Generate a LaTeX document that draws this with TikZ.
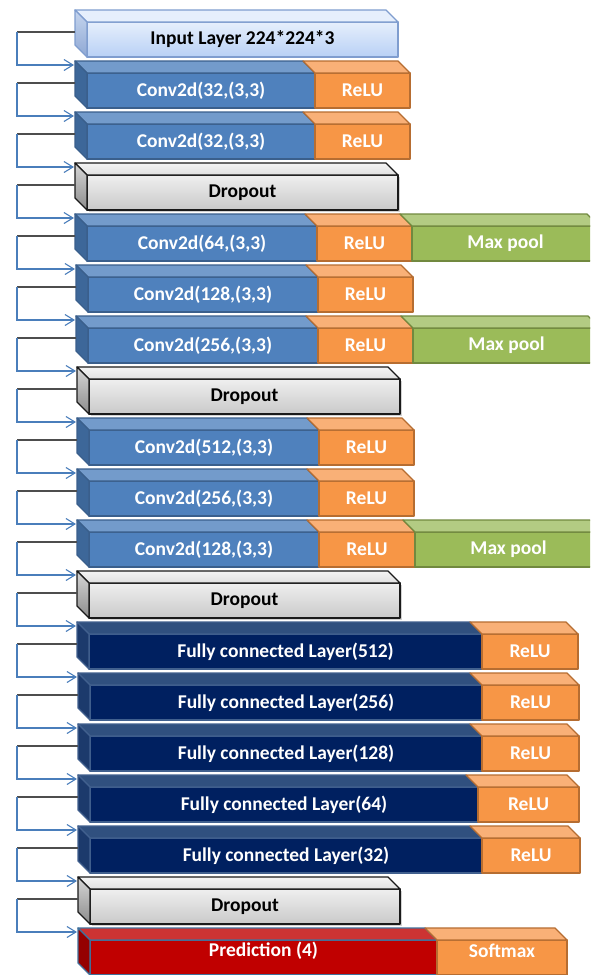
\documentclass[tikz,border=0pt]{standalone}
\usepackage{fontspec}
\setmainfont{Carlito}
\usetikzlibrary{arrows.meta,shadows}
\definecolor{convfront}{HTML}{4F81BD}
\definecolor{convtopc}{HTML}{739BCB}
\definecolor{convsidec}{HTML}{3D6799}
\definecolor{convedge}{HTML}{3A5F8C}
\definecolor{relufront}{HTML}{F79646}
\definecolor{relutopc}{HTML}{F9B077}
\definecolor{reluedge}{HTML}{B66D31}
\definecolor{poolfront}{HTML}{9BBB59}
\definecolor{pooltopc}{HTML}{B3CB83}
\definecolor{pooledge}{HTML}{71893F}
\definecolor{dropA}{HTML}{EFEFEF}
\definecolor{dropB}{HTML}{C9C9C9}
\definecolor{droptopA}{HTML}{F4F4F4}
\definecolor{droptopB}{HTML}{E0E0E0}
\definecolor{dropsideA}{HTML}{D6D6D6}
\definecolor{dropsideB}{HTML}{8C8C8C}
\definecolor{dropedge}{HTML}{1A1A1A}
\definecolor{inpA}{HTML}{E6EFFC}
\definecolor{inpB}{HTML}{B8D0F5}
\definecolor{inpsideA}{HTML}{C5D5EE}
\definecolor{inpsideB}{HTML}{8FA8D4}
\definecolor{inpedge}{HTML}{7F9DCF}
\definecolor{fcfront}{HTML}{002060}
\definecolor{fctopc}{HTML}{30507F}
\definecolor{fcsidec}{HTML}{1C3A6C}
\definecolor{fcedge}{HTML}{41608E}
\definecolor{predfront}{HTML}{C00000}
\definecolor{predtopc}{HTML}{CC3333}
\definecolor{predsidec}{HTML}{950000}
\definecolor{prededge}{HTML}{41719C}
\definecolor{darkln}{HTML}{4D4D4D}
\definecolor{blueln}{HTML}{4A7EBB}
\tikzset{
  x=1pt, y=-1pt,
  lblfont/.style={font=\fontsize{19.5}{21}\selectfont\bfseries},
  face/.style={rectangle, inner sep=0pt, outer sep=0pt, minimum height=35pt,
    line width=1.3pt, line join=round, lblfont},
  edgeln/.style={line width=1.3pt, line join=round},
  conv/.style={fill=convfront, draw=convedge, text=white},
  convtop/.style={edgeln, fill=convtopc, draw=convedge},
  convside/.style={edgeln, fill=convsidec, draw=convedge},
  relu/.style={fill=relufront, draw=reluedge, text=white},
  relutop/.style={edgeln, fill=relutopc, draw=reluedge},
  pool/.style={fill=poolfront, draw=pooledge, text=white},
  pooltop/.style={edgeln, fill=pooltopc, draw=pooledge},
  drop/.style={top color=dropA, bottom color=dropB, draw=dropedge, text=black,
    drop shadow={shadow xshift=1.5pt, shadow yshift=-2pt, opacity=0.35}},
  droptop/.style={edgeln, top color=droptopA, bottom color=droptopB, draw=dropedge},
  dropside/.style={edgeln, top color=dropsideA, bottom color=dropsideB, draw=dropedge},
  inp/.style={top color=inpA, bottom color=inpB, draw=inpedge, text=black},
  inptop/.style={edgeln, top color=inpA, bottom color=inpA, draw=inpedge},
  inpside/.style={edgeln, top color=inpsideA, bottom color=inpsideB, draw=inpedge},
  fc/.style={fill=fcfront, draw=fcedge, text=white},
  fctop/.style={edgeln, fill=fctopc, draw=fcedge},
  fcside/.style={edgeln, fill=fcsidec, draw=fcedge},
  pred/.style={fill=predfront, draw=prededge, text=white},
  predtop/.style={edgeln, fill=predtopc, draw=prededge},
  predside/.style={edgeln, fill=predsidec, draw=prededge},
  soft/.style={fill=relufront, draw=reluedge, text=white},
  softtop/.style={edgeln, fill=relutopc, draw=reluedge},
  darkline/.style={line width=1.1pt, draw=darkln},
  blueline/.style={line width=1.1pt, draw=blueln, -{Straight Barb[length=9pt,width=11pt,line width=1.1pt]}},
}
% #1 kind, #2 name, #3 back-left x, #4 back-top y, #5 width, #6 text
\newcommand\layerbox[6]{%
  \node[face, #1, minimum width=#5pt, anchor=north west] (#2) at (#3+12,#4+12) {#6};
  \path[#1top] (#2.north west) -- ++(-12,-12) -- ++(#5,0) -- (#2.north east) -- cycle;
}
% #1 kind, #2 name, #3 index
\newcommand\sideface[3]{%
  \path[#1side] (#2.north west) -- ++(-12,-12) -- ++(0,35) -- (#2.south west) -- cycle;
  \path (#2.north west) ++(-13,-8) coordinate (in#3);
  \path (#2.north west) ++(-12,10) coordinate (out#3);
}
\begin{document}
\begin{tikzpicture}
\useasboundingbox (0,0) rectangle (590,975);
\clip (0,0) rectangle (590,975);
\fill[white] (0,0) rectangle (590,975);
% row 0
\layerbox{inp}{inL}{75}{10}{311}{Input Layer 224*224*3}
\sideface{inp}{inL}{0}
% row 1
\layerbox{conv}{c1}{75}{61}{228}{Conv2d(32,(3,3)}
\layerbox{relu}{r1}{303}{61}{95}{ReLU}
\sideface{conv}{c1}{1}
% row 2
\layerbox{conv}{c2}{75}{112}{228}{Conv2d(32,(3,3)}
\layerbox{relu}{r2}{303}{112}{95}{ReLU}
\sideface{conv}{c2}{2}
% row 3
\layerbox{drop}{d3}{75}{163}{311}{Dropout}
\sideface{drop}{d3}{3}
% row 4
\layerbox{conv}{c4}{75}{214}{230}{Conv2d(64,(3,3)}
\layerbox{relu}{r4}{305}{214}{95}{ReLU}
\layerbox{pool}{p4}{400}{214}{187}{Max pool}
\sideface{conv}{c4}{4}
% row 5
\layerbox{conv}{c5}{76}{265}{230}{Conv2d(128,(3,3)}
\layerbox{relu}{r5}{306}{265}{95}{ReLU}
\sideface{conv}{c5}{5}
% row 6
\layerbox{conv}{c6}{76}{316}{230}{Conv2d(256,(3,3)}
\layerbox{relu}{r6}{306}{316}{95}{ReLU}
\layerbox{pool}{p6}{401}{316}{187}{Max pool}
\sideface{conv}{c6}{6}
% row 7
\layerbox{drop}{d7}{77}{367}{311}{Dropout}
\sideface{drop}{d7}{7}
% row 8
\layerbox{conv}{c8}{77}{418}{230}{Conv2d(512,(3,3)}
\layerbox{relu}{r8}{307}{418}{95}{ReLU}
\sideface{conv}{c8}{8}
% row 9
\layerbox{conv}{c9}{77}{469}{230}{Conv2d(256,(3,3)}
\layerbox{relu}{r9}{307}{469}{95}{ReLU}
\sideface{conv}{c9}{9}
% row 10
\layerbox{conv}{c10}{77}{520}{230}{Conv2d(128,(3,3)}
\layerbox{relu}{r10}{307}{520}{96}{ReLU}
\layerbox{pool}{p10}{403}{520}{187}{Max pool}
\sideface{conv}{c10}{10}
% row 11
\layerbox{drop}{d11}{77}{571}{311}{Dropout}
\sideface{drop}{d11}{11}
% row 12
\layerbox{fc}{f12}{77}{622}{393}{Fully connected Layer(512)}
\layerbox{relu}{r12}{470}{622}{96}{ReLU}
\sideface{fc}{f12}{12}
% row 13
\layerbox{fc}{f13}{78}{673}{392}{Fully connected Layer(256)}
\layerbox{relu}{r13}{470}{673}{97}{ReLU}
\sideface{fc}{f13}{13}
% row 14
\layerbox{fc}{f14}{78}{724}{392}{Fully connected Layer(128)}
\layerbox{relu}{r14}{470}{724}{97}{ReLU}
\sideface{fc}{f14}{14}
% row 15
\layerbox{fc}{f15}{78}{775}{388}{Fully connected Layer(64)}
\layerbox{relu}{r15}{466}{775}{101}{ReLU}
\sideface{fc}{f15}{15}
% row 16
\layerbox{fc}{f16}{78}{826}{392}{Fully connected Layer(32)}
\layerbox{relu}{r16}{470}{826}{98}{ReLU}
\sideface{fc}{f16}{16}
% row 17
\layerbox{drop}{d17}{78}{877}{310}{Dropout}
\sideface{drop}{d17}{17}
% row 18
\layerbox{pred}{pr}{78}{928}{347}{}
\layerbox{soft}{sm}{425}{928}{130}{}
\sideface{pred}{pr}{18}
\node[lblfont, text=white] (prtext) at (pr.center |- 0,951) {Prediction (4)};
\node[lblfont, text=white] (smtext) at (sm.center |- 0,951) {Softmax};
% connectors
\coordinate (rail) at (17,0);
\foreach \a/\b in {0/1,1/2,2/3,3/4,4/5,5/6,6/7,7/8,8/9,9/10,10/11,11/12,12/13,13/14,14/15,15/16,16/17,17/18}{
  \draw[darkline] (out\a) -- (out\a -| rail);
  \draw[blueline] (out\a -| rail) |- (in\b);
}
\end{tikzpicture}
\end{document}
